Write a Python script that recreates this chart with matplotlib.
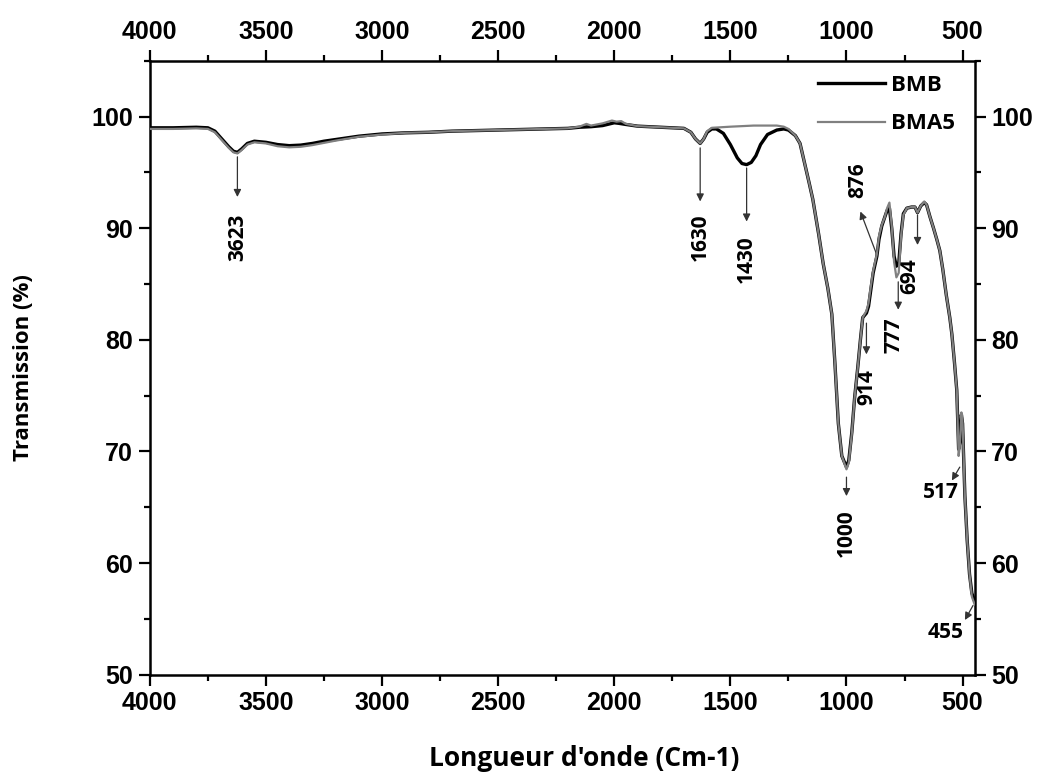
import matplotlib
matplotlib.use("Agg")
import matplotlib.pyplot as plt
from matplotlib.ticker import MultipleLocator

# wavenumber (cm-1) and transmission (%)
wn_bmb = [4000, 3900, 3800, 3750, 3720, 3690, 3660, 3640, 3623, 3605, 3580, 3550,
          3500, 3450, 3400, 3350, 3300, 3250, 3200, 3100, 3000, 2900, 2800, 2700,
          2600, 2500, 2400, 2300, 2200, 2150, 2100, 2050, 2000, 1980, 1950, 1900,
          1850, 1800, 1750, 1700, 1670, 1650, 1630, 1615, 1600, 1580, 1560, 1530,
          1500, 1470, 1450, 1430, 1410, 1390, 1370, 1340, 1300, 1270, 1250, 1220,
          1200, 1180, 1160, 1145, 1120, 1100, 1080, 1063, 1050, 1035, 1020, 1000,
          990, 977, 965, 951, 940, 930, 914, 905, 895, 885, 869, 860, 848, 835,
          825, 815, 805, 795, 785, 775, 765, 755, 740, 720, 705, 694, 680, 665,
          655, 640, 625, 611, 598, 585, 570, 555, 546, 535, 525, 517, 512, 505,
          500, 490, 480, 470, 460, 455, 448]
t_bmb = [99.0, 99.0, 99.05, 99.0, 98.7, 98.0, 97.3, 96.9, 96.8, 97.1, 97.6, 97.8,
         97.7, 97.5, 97.4, 97.45, 97.6, 97.8, 97.95, 98.25, 98.45, 98.55, 98.6, 98.7,
         98.75, 98.8, 98.85, 98.9, 98.95, 99.05, 99.1, 99.2, 99.45, 99.4, 99.3, 99.15,
         99.1, 99.05, 99.0, 98.95, 98.6, 98.0, 97.6, 98.0, 98.6, 98.9, 98.9, 98.5,
         97.5, 96.3, 95.8, 95.7, 95.9, 96.5, 97.5, 98.4, 98.8, 98.9, 98.8, 98.3,
         97.6, 95.8, 94.0, 92.6, 89.5, 86.8, 84.6, 82.3, 78.0, 72.5, 69.6, 68.6,
         69.2, 71.7, 74.8, 77.6, 80.0, 82.0, 82.4, 83.0, 84.5, 86.0, 87.5, 89.0,
         90.2, 91.0, 91.6, 91.8, 90.0, 87.5, 86.6, 86.8, 89.5, 91.3, 91.8, 91.9,
         91.9, 91.4, 92.0, 92.3, 92.1, 91.0, 90.0, 89.0, 88.0, 86.3, 84.0, 82.0,
         80.5, 78.0, 75.5, 70.2, 70.8, 73.3, 72.5, 66.0, 62.0, 59.0, 57.3, 57.0, 56.6]

wn_bma5 = [4000, 3900, 3800, 3750, 3720, 3690, 3660, 3640, 3623, 3605, 3580, 3550,
           3500, 3450, 3400, 3350, 3300, 3250, 3200, 3100, 3000, 2900, 2800, 2700,
           2600, 2500, 2400, 2300, 2200, 2150, 2120, 2100, 2050, 2010, 1990, 1970,
           1950, 1900, 1850, 1800, 1750, 1700, 1670, 1650, 1630, 1615, 1600, 1580,
           1500, 1400, 1300, 1270, 1250, 1220, 1200, 1180, 1160, 1145, 1120, 1100,
           1080, 1063, 1050, 1035, 1020, 1000, 990, 977, 965, 951, 940, 930, 914,
           905, 895, 885, 869, 860, 848, 835, 825, 815, 805, 795, 785, 775, 765,
           755, 740, 720, 705, 694, 680, 665, 655, 640, 625, 611, 598, 585, 570,
           555, 546, 535, 525, 517, 512, 505, 500, 490, 480, 470, 460, 455, 448]
t_bma5 = [98.9, 98.9, 98.95, 98.9, 98.6, 97.9, 97.2, 96.8, 96.7, 97.0, 97.5, 97.7,
          97.6, 97.35, 97.25, 97.3, 97.45, 97.65, 97.85, 98.2, 98.4, 98.55, 98.6, 98.7,
          98.75, 98.8, 98.85, 98.9, 98.95, 99.1, 99.35, 99.2, 99.4, 99.65, 99.55, 99.6,
          99.35, 99.15, 99.1, 99.05, 99.0, 98.95, 98.6, 98.0, 97.6, 98.0, 98.7, 99.0,
          99.1, 99.2, 99.2, 99.1, 98.9, 98.3, 97.6, 95.8, 94.0, 92.6, 89.5, 86.8,
          84.6, 82.3, 78.0, 72.5, 69.6, 68.4, 69.0, 71.6, 74.8, 77.6, 80.0, 82.0, 82.6,
          83.3, 84.8, 86.2, 87.7, 89.3, 90.3, 91.0, 91.8, 92.3, 90.2, 87.0, 85.6, 86.0,
          89.3, 91.2, 91.8, 91.9, 91.9, 91.4, 92.0, 92.4, 92.1, 91.0, 90.0, 89.0, 88.0,
          86.3, 84.0, 82.0, 80.5, 78.0, 75.5, 69.6, 70.4, 73.5, 72.6, 66.0, 62.0, 59.0,
          57.0, 56.7, 56.3]

# peak labels: (text, arrow tail, arrow head, label centre, rotation)
peaks = [
    ("3623", (3623, 96.4), (3623, 92.8), (3623, 89.2), 90),
    ("1630", (1630, 97.2), (1630, 92.4), (1630, 89.2), 90),
    ("1430", (1430, 95.4), (1430, 90.6), (1430, 87.2), 90),
    ("876", (869, 87.6), (940, 91.5), (951, 94.3), 90),
    ("914", (914, 81.5), (914, 78.7), (914, 75.8), 90),
    ("777", (777, 85.2), (777, 82.7), (797, 80.4), 90),
    ("694", (694, 91.2), (694, 88.5), (727, 85.7), 90),
    ("1000", (1000, 67.7), (1000, 66.0), (1000, 62.7), 90),
    ("517", (512, 68.6), (546, 67.4), (592, 66.3), 0),
    ("455", (455, 56.2), (490, 54.9), (572, 53.8), 0),
]

fig = plt.figure(figsize=(10.48, 7.8), dpi=100)
ax = fig.add_axes([0.143, 0.135, 0.787, 0.787])

ax.plot(wn_bmb, t_bmb, color="black", lw=2.4, label="BMB", zorder=3)
ax.plot(wn_bma5, t_bma5, color="#808080", lw=1.6, label="BMA5", zorder=4)

for txt, tail, head, pos, rot in peaks:
    ax.annotate("", xy=head, xytext=tail,
                arrowprops=dict(arrowstyle="-|>", color="#333333", lw=0.9,
                                mutation_scale=11, shrinkA=0, shrinkB=0))
    ax.text(pos[0], pos[1], txt, rotation=rot, ha="center", va="center",
            fontsize=15, fontweight="bold", family=["Open Sans", "DejaVu Sans"])

ax.set_xlim(4000, 448)
ax.set_ylim(50, 105)
ax.xaxis.set_major_locator(MultipleLocator(500))
ax.xaxis.set_minor_locator(MultipleLocator(250))
ax.yaxis.set_major_locator(MultipleLocator(10))
ax.yaxis.set_minor_locator(MultipleLocator(5))

ax.tick_params(which="both", direction="out", top=True, right=True,
               labeltop=True, labelright=True, width=1.6)
ax.tick_params(which="major", length=8, pad=4)
ax.tick_params(which="minor", length=4.5)
for lab in ax.get_xticklabels() + ax.get_yticklabels():
    lab.set_family(["Liberation Sans Narrow", "Liberation Sans", "DejaVu Sans"])
    lab.set_fontweight("bold")
    lab.set_fontsize(18)
for sp in ax.spines.values():
    sp.set_linewidth(1.8)

ax.set_xlabel("Longueur d'onde (Cm-1)", fontsize=19, fontweight="bold",
              family=["Open Sans", "DejaVu Sans"])
ax.set_ylabel("Transmission (%)", fontsize=16, fontweight="bold",
              family=["Open Sans", "DejaVu Sans"])
ax.xaxis.set_label_coords(0.527, -0.115)
ax.yaxis.set_label_coords(-0.14, 0.5)

leg = ax.legend(loc="upper right", bbox_to_anchor=(1.0, 1.01), frameon=False,
                handlelength=3.0, handletextpad=0.25, labelspacing=0.8,
                prop=dict(family=["Open Sans", "DejaVu Sans"], weight="bold", size=16))

fig.savefig("out.png", dpi=100)
